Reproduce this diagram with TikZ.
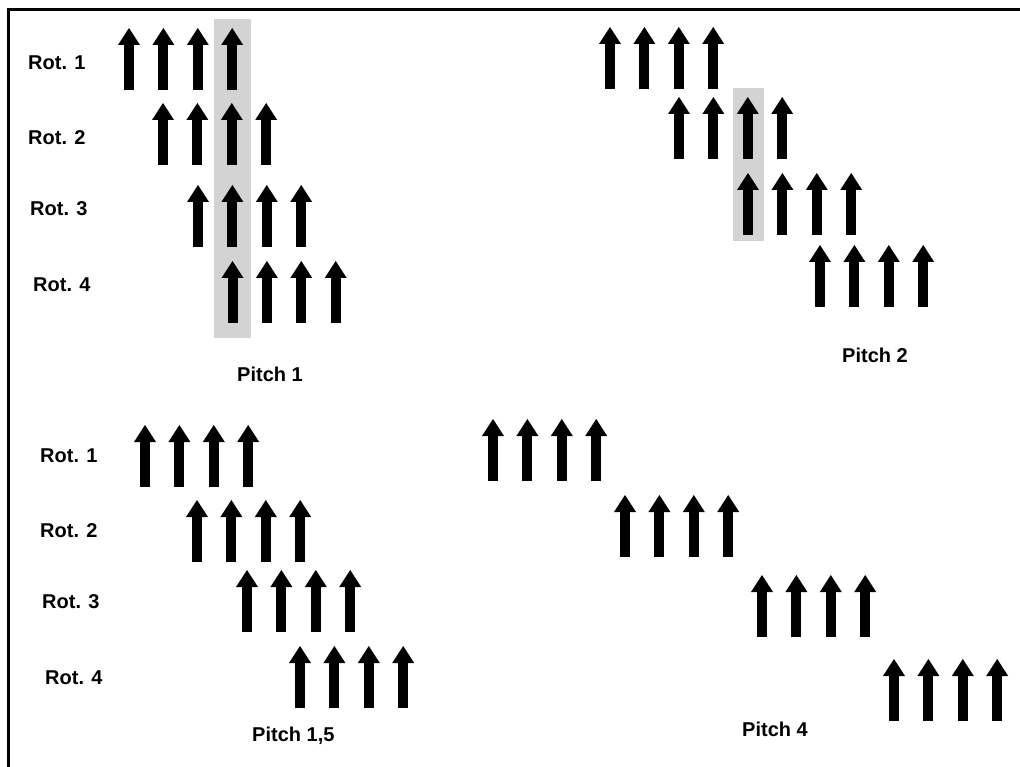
\documentclass[tikz,border=0pt]{standalone}
\usepackage{fontspec}
\setmainfont{Liberation Sans}
\usetikzlibrary{arrows.meta}
\definecolor{bandF}{HTML}{D3D3D3}
\tikzset{
  uparr/.style={line width=10pt, -{Triangle[width=22pt,length=17pt,line width=0pt]}},
  band/.style={fill=bandF, draw=none},
  lab/.style={font=\fontsize{20}{24}\selectfont\bfseries, inner sep=0pt, anchor=base west},
  frame/.style={line width=3.2pt},
}
\newcommand\arrowrow[2]{\foreach \k in {0,...,3} \draw[uparr] ({#1+34.4*\k},#2) -- ++(0,-62);}

\begin{document}
\begin{tikzpicture}[x=1pt, y=-1pt]
\useasboundingbox (0,0) rectangle (1020,767);
\draw[frame] (8.4,767) -- (8.4,9.5) -- (1020,9.5);
% pitch 1
\fill[band] (214,19) rectangle (251,338);
\arrowrow{129}{90}
\arrowrow{163}{165}
\arrowrow{198}{247}
\arrowrow{232.5}{323}
\node[lab] (rotA1) at (28,70) {Rot. 1};
\node[lab] (rotA2) at (28,145) {Rot. 2};
\node[lab] (rotA3) at (30,216) {Rot. 3};
\node[lab] (rotA4) at (33,292) {Rot. 4};
\node[lab] (pitchOne) at (237,381) {Pitch 1};
% pitch 2
\fill[band] (733,88) rectangle (764,241);
\arrowrow{610}{89}
\arrowrow{679}{159}
\arrowrow{748}{235}
\arrowrow{820}{307}
\node[lab] (pitchTwo) at (842,362) {Pitch 2};
% pitch 1,5
\arrowrow{145}{487}
\arrowrow{197}{562}
\arrowrow{247}{632}
\arrowrow{300}{708}
\node[lab] (rotB1) at (40,462) {Rot. 1};
\node[lab] (rotB2) at (40,537) {Rot. 2};
\node[lab] (rotB3) at (42,608) {Rot. 3};
\node[lab] (rotB4) at (45,684) {Rot. 4};
\node[lab] (pitchOneHalf) at (252,741) {Pitch 1,5};
% pitch 4
\arrowrow{493}{481}
\arrowrow{625}{557}
\arrowrow{762}{637}
\arrowrow{894}{721}
\node[lab] (pitchFour) at (742,736) {Pitch 4};
\end{tikzpicture}
\end{document}
